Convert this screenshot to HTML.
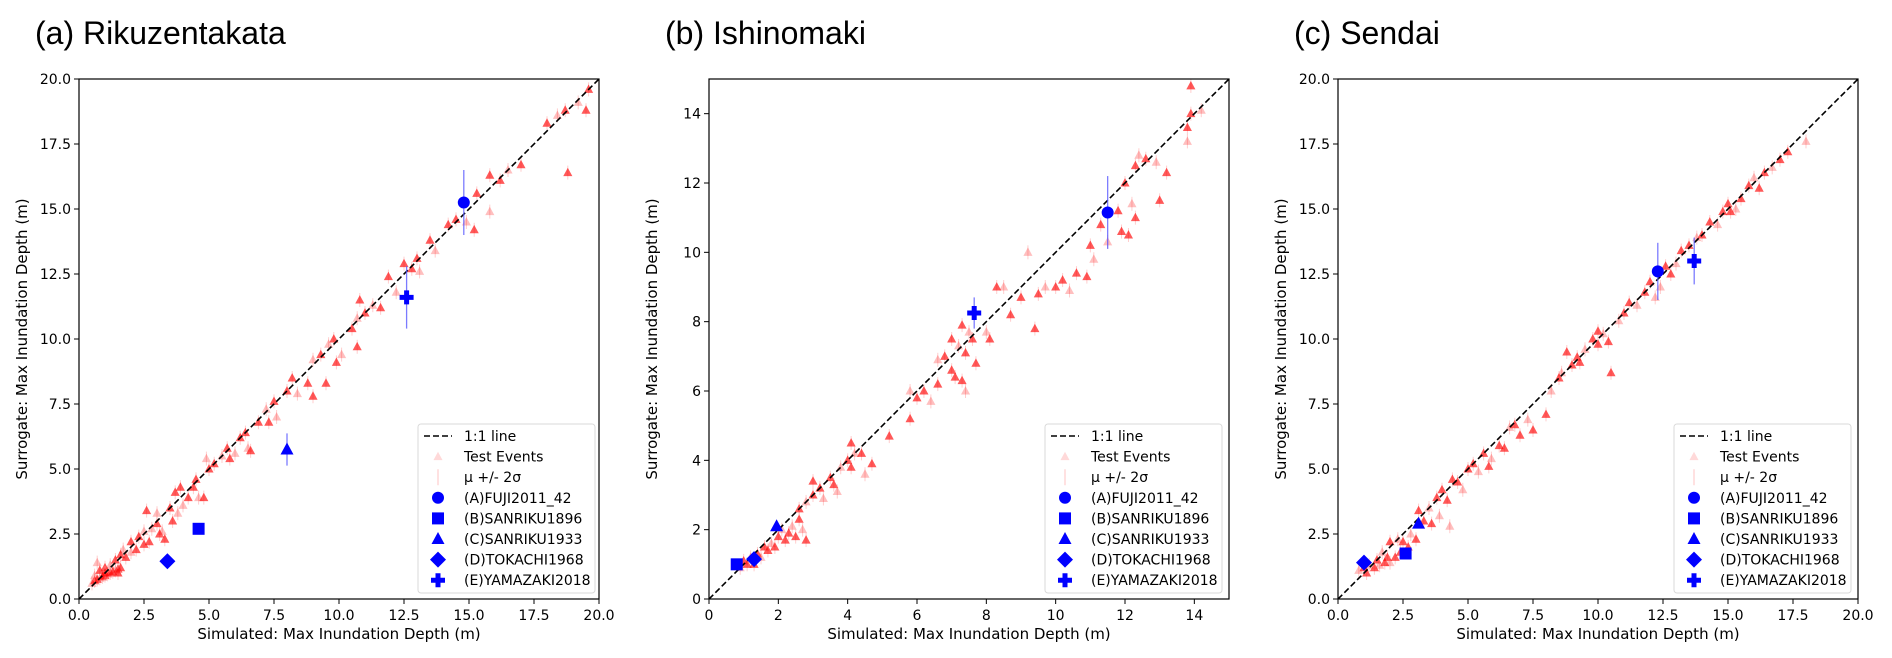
<!DOCTYPE html>
<html><head><meta charset="utf-8"><style>
html,body{margin:0;padding:0;background:#fff;}
svg{display:block;}
text{font-family:"DejaVu Sans","Liberation Sans",sans-serif;fill:#000;}
.title{font-family:"Liberation Sans",Arial,sans-serif;font-size:32px;}
.tick{font-size:14px;}
.alabel{font-size:15px;}
.leg{font-size:14px;}
</style></head><body>
<svg id="fig" width="1892" height="658" viewBox="0 0 1892 658" xmlns="http://www.w3.org/2000/svg"></svg>
<script>
// ---- Panel (a) Rikuzentakata data ----
const aSimX=[0.5,0.6,0.7,0.8,0.9,1.0,1.1,1.2,1.3,1.4,1.5,1.6,0.6,0.8,1.0,1.2,1.4,1.6,0.7,1.0,1.5,1.7,1.8,2.0,2.0,2.2,2.3,2.5,2.5,2.7,2.8,3.0,3.1,3.2,3.3,2.6,3.0,3.5,3.6,3.8,3.9,3.7,4.0,4.2,4.4,4.6,4.8,4.5,4.9,5.0,5.2,5.5,5.8,5.7,6.0,6.2,6.4,6.5,6.6,6.9,7.2,7.5,7.3,7.6,8.2,8.0,8.4,8.8,9.0,9.0,9.3,9.5,9.6,9.8,9.9,10.1,10.5,10.8,10.7,11.0,10.7,11.3,11.6,11.9,12.2,12.5,12.8,13.1,13.0,13.5,13.7,14.2,14.5,14.9,15.2,15.3,15.8,15.8,16.2,16.5,17.0,18.0,18.4,18.8,18.7,19.2,19.5,19.6];
const aSurY=[0.6,0.7,0.75,0.8,0.85,0.9,0.95,1.0,1.05,1.1,1.15,1.2,0.9,1.1,1.2,1.3,1.5,1.7,1.4,1.0,1.0,1.9,1.6,2.2,1.8,1.9,2.4,2.6,2.1,2.2,2.7,2.9,2.5,2.6,2.3,3.4,3.3,3.5,3.0,3.3,4.3,4.1,3.6,3.9,4.3,3.9,3.9,4.6,5.4,5.0,5.2,5.5,5.4,5.8,5.6,6.2,6.4,5.8,5.7,6.8,7.3,7.6,6.8,7.0,8.5,8.0,7.9,8.3,7.8,9.2,9.4,8.3,9.8,10.0,9.1,9.4,10.4,11.5,10.8,11.0,9.7,11.3,11.2,12.4,11.8,12.9,12.7,12.6,13.1,13.8,13.4,14.4,14.6,14.5,14.2,15.6,14.9,16.3,16.1,16.5,16.7,18.3,18.6,16.4,18.8,19.1,18.8,19.6];
const aRefX=[14.8,4.6,8.0,3.4,12.6];
const aRefY=[15.25,2.7,5.75,1.45,11.6];
const aRefErr=[1.25,0,0.62,0,1.2];
// ---- Panel (b) Ishinomaki data ----
const bSimX=[0.9,1.0,1.1,1.2,1.3,1.4,1.5,1.6,1.7,1.8,1.9,2.0,2.1,2.2,2.3,2.4,2.5,2.6,2.7,2.8,2.6,2.8,3.0,3.2,3.3,3.5,3.6,3.8,4.0,4.1,4.2,4.1,4.4,4.5,4.7,3.0,3.7,5.2,5.8,5.8,6.0,6.2,6.4,6.6,6.8,6.6,7.0,7.1,7.2,7.3,7.4,7.5,7.6,7.7,7.4,7.3,7.0,8.0,8.1,8.3,8.5,8.7,9.0,9.2,9.4,9.5,9.7,10.0,10.2,10.4,10.6,10.9,11.1,11.3,11.0,11.5,11.8,12.0,12.2,12.3,12.1,12.4,12.6,12.3,12.9,13.0,13.2,13.8,13.8,13.9,14.2,13.9,11.9];
const bSurY=[0.9,1.1,1.0,1.2,1.0,1.3,1.2,1.5,1.4,1.6,1.5,1.8,2.0,1.7,1.9,2.1,1.8,2.3,2.0,1.7,2.6,2.8,3.0,3.2,2.9,3.5,3.3,3.8,4.0,3.8,4.2,4.5,4.2,3.6,3.9,3.4,3.1,4.7,5.2,6.0,5.8,6.0,5.7,6.2,7.0,6.9,6.6,6.4,7.3,6.3,7.1,7.7,7.5,6.8,6.0,7.9,7.5,7.7,7.5,9.0,9.0,8.2,8.7,10.0,7.8,8.8,9.0,9.0,9.2,8.9,9.4,9.3,9.8,10.8,10.2,10.3,11.2,12.0,11.4,12.5,10.5,12.8,12.7,11.0,12.6,11.5,12.3,13.2,13.6,14.0,14.1,14.8,10.6];
const bRefX=[11.5,0.8,1.95,1.3,7.65];
const bRefY=[11.15,1.0,2.1,1.15,8.25];
const bRefErr=[1.05,0,0,0,0.45];
// ---- Panel (c) Sendai data ----
const cSimX=[0.8,1.0,1.1,1.2,1.4,1.5,1.6,1.8,1.9,2.0,2.2,2.4,2.3,2.5,2.7,2.8,3.0,2.0,1.7,3.1,3.3,3.5,3.6,3.8,3.9,4.0,4.2,4.3,4.4,4.6,4.8,5.0,5.2,5.4,5.6,5.8,5.9,6.2,6.4,6.6,6.8,7.0,7.3,7.5,8.0,8.2,8.5,8.8,8.6,9.2,9.0,9.5,9.8,10.0,10.2,10.4,10.5,10.8,11.0,11.2,11.5,11.8,12.0,12.4,12.6,12.8,13.0,13.2,13.5,13.8,14.0,14.3,14.6,14.8,15.0,15.3,15.5,15.8,16.0,16.2,16.4,16.7,17.0,17.3,18.0,10.0,9.3,12.2,15.1];
const cSurY=[1.1,1.2,1.0,1.3,1.2,1.5,1.3,1.4,1.6,1.4,1.6,1.8,2.3,2.2,2.0,2.5,2.3,2.2,1.8,3.4,3.0,3.5,2.9,3.9,3.2,4.2,3.8,2.8,4.6,4.5,4.2,5.0,5.2,4.9,5.6,5.1,5.4,5.9,5.8,6.6,6.7,6.3,6.9,6.5,7.1,8.0,8.5,9.5,8.7,9.3,9.0,9.6,10.0,9.8,10.2,9.9,8.7,10.7,11.0,11.4,11.3,11.8,12.2,12.0,12.8,12.5,12.9,13.4,13.6,13.9,14.0,14.5,14.4,14.9,15.2,15.0,15.4,15.9,16.2,15.8,16.4,16.6,16.9,17.2,17.6,10.3,9.1,11.6,14.9];
const cRefX=[12.3,2.6,3.1,1.0,13.7];
const cRefY=[12.6,1.75,2.9,1.4,13.0];
const cRefErr=[1.1,0,0,0,0.9];
// ---- ticks / labels ----
const ticks20=[0,2.5,5,7.5,10,12.5,15,17.5,20];
const ticks15=[0,2,4,6,8,10,12,14];
const refNames=["(A)FUJI2011_42","(B)SANRIKU1896","(C)SANRIKU1933","(D)TOKACHI1968","(E)YAMAZAKI2018"];
const refShapes=["circle","square","triangle","diamond","plus"];

const NS="http://www.w3.org/2000/svg";
const svg=document.getElementById('fig');
function mk(tag,attrs,parent,txt){const e=document.createElementNS(NS,tag);for(const k in attrs)e.setAttribute(k,attrs[k]);if(txt!==undefined)e.textContent=txt;(parent||svg).appendChild(e);return e;}
function marker(shape,cx,cy,g,fill,op,small){
  let e;
  if(shape==="circle"){e=mk('circle',{cx:cx,cy:cy,r:6,fill:fill},g);}
  else if(shape==="square"){e=mk('rect',{x:cx-6,y:cy-6,width:12,height:12,fill:fill},g);}
  else if(shape==="triangle"){const s=small?0.7:1;e=mk('polygon',{points:`${cx},${cy-7*s} ${cx+6.5*s},${cy+5*s} ${cx-6.5*s},${cy+5*s}`,fill:fill},g);}
  else if(shape==="diamond"){e=mk('polygon',{points:`${cx},${cy-8} ${cx+8},${cy} ${cx},${cy+8} ${cx-8},${cy}`,fill:fill},g);}
  else {e=mk('path',{d:`M${cx-2.5},${cy-7}h5v4.5h4.5v5h-4.5v4.5h-5v-4.5h-4.5v-5h4.5z`,fill:fill},g);}
  if(op!==undefined)e.setAttribute('opacity',op);
  return e;
}
function panel(key,title,left,maxV,ticks,fmt,simX,surY,refX,refY,refErr,legLeft){
  const top=79,size=520;
  const sx=v=>left+v/maxV*size, sy=v=>top+size-v/maxV*size;
  const g=mk('g',{});
  
  
  const t=mk('text',{x:left-44,y:44,class:'title'},g,title);
  
  
  ticks.forEach(v=>{
    mk('line',{x1:sx(v),x2:sx(v),y1:top+size,y2:top+size+5,stroke:'#000','stroke-width':1},g);
    const xl=mk('text',{x:sx(v),y:top+size+21,'text-anchor':'middle',class:'tick'},g,fmt(v));
    
    
    mk('line',{x1:left-5,x2:left,y1:sy(v),y2:sy(v),stroke:'#000','stroke-width':1},g);
    const yl=mk('text',{x:left-8,y:sy(v)+5,'text-anchor':'end',class:'tick'},g,fmt(v));
    
    
  });
  const xt=mk('text',{x:left+size/2,y:top+size+40,'text-anchor':'middle',class:'alabel'},g,'Simulated: Max Inundation Depth (m)');
  
  
  const yx=left-52, yy=top+size/2;
  const yt=mk('text',{x:yx,y:yy,'text-anchor':'middle',class:'alabel',transform:`rotate(-90 ${yx} ${yy})`},g,'Surrogate: Max Inundation Depth (m)');
  
  
  const clip=mk('clipPath',{id:'clip'+key},g);
  mk('rect',{x:left,y:top,width:size,height:size},clip);
  const pg=mk('g',{'clip-path':`url(#clip${key})`},g);
  for(let i=0;i<simX.length;i++){
    const cx=sx(simX[i]),cy=sy(surY[i]);
    mk('line',{x1:cx,x2:cx,y1:cy-7,y2:cy+7,stroke:'#ff9c9c','stroke-width':1,opacity:0.5},pg);
    const m=marker('triangle',cx,cy,pg,'#ff0000',i%3===0?0.25:0.65,true);
    
    
  }
  const l=mk('line',{x1:sx(0),y1:sy(0),x2:sx(maxV),y2:sy(maxV),stroke:'#000','stroke-width':1.6,'stroke-dasharray':'6,3'},pg);
  
  
  for(let i=0;i<refX.length;i++){
    const cx=sx(refX[i]),cy=sy(refY[i]);
    if(refErr[i]>0)mk('line',{x1:cx,x2:cx,y1:sy(refY[i]+refErr[i]),y2:sy(refY[i]-refErr[i]),stroke:'#5b5bff','stroke-width':1.3,opacity:0.8},pg);
    const m=marker(refShapes[i],cx,cy,pg,'#0000ff');
    
    
  }
  mk('rect',{x:left,y:top,width:size,height:size,fill:'none',stroke:'#000','stroke-width':1.2},g);
  const lg=mk('g',{},g);
  
  
  mk('rect',{x:legLeft,y:424,width:177,height:169,rx:3,fill:'#fff',stroke:'#d6d6d6','stroke-width':1,opacity:0.9},lg);
  const mx=legLeft+20, tx=legLeft+46;
  const rowY=k=>436+k*20.6;
  mk('line',{x1:legLeft+6,x2:legLeft+34,y1:rowY(0),y2:rowY(0),stroke:'#000','stroke-width':1.6,'stroke-dasharray':'6,3'},lg);
  mk('text',{x:tx,y:rowY(0)+5,class:'leg'},lg,'1:1 line');
  marker('triangle',mx,rowY(1),lg,'#ff0000',0.15,true);
  mk('text',{x:tx,y:rowY(1)+5,class:'leg'},lg,'Test Events');
  mk('line',{x1:mx,x2:mx,y1:rowY(2)-8,y2:rowY(2)+8,stroke:'#ff9c9c','stroke-width':1,opacity:0.6},lg);
  mk('text',{x:tx,y:rowY(2)+5,class:'leg'},lg,'μ +/- 2σ');
  refNames.forEach((n,k)=>{
    marker(refShapes[k],mx,rowY(3+k),lg,'#0000ff');
    const e=mk('text',{x:tx,y:rowY(3+k)+5,class:'leg'},lg,n);
    
    
  });
}
const f1=v=>v.toFixed(1), f0=v=>String(v);
panel('a','(a) Rikuzentakata',79,20,ticks20,f1,aSimX,aSurY,aRefX,aRefY,aRefErr,418);
panel('b','(b) Ishinomaki',709,15,ticks15,f0,bSimX,bSurY,bRefX,bRefY,bRefErr,1045);
panel('c','(c) Sendai',1338,20,ticks20,f1,cSimX,cSurY,cRefX,cRefY,cRefErr,1674);
</script>
</body></html>
